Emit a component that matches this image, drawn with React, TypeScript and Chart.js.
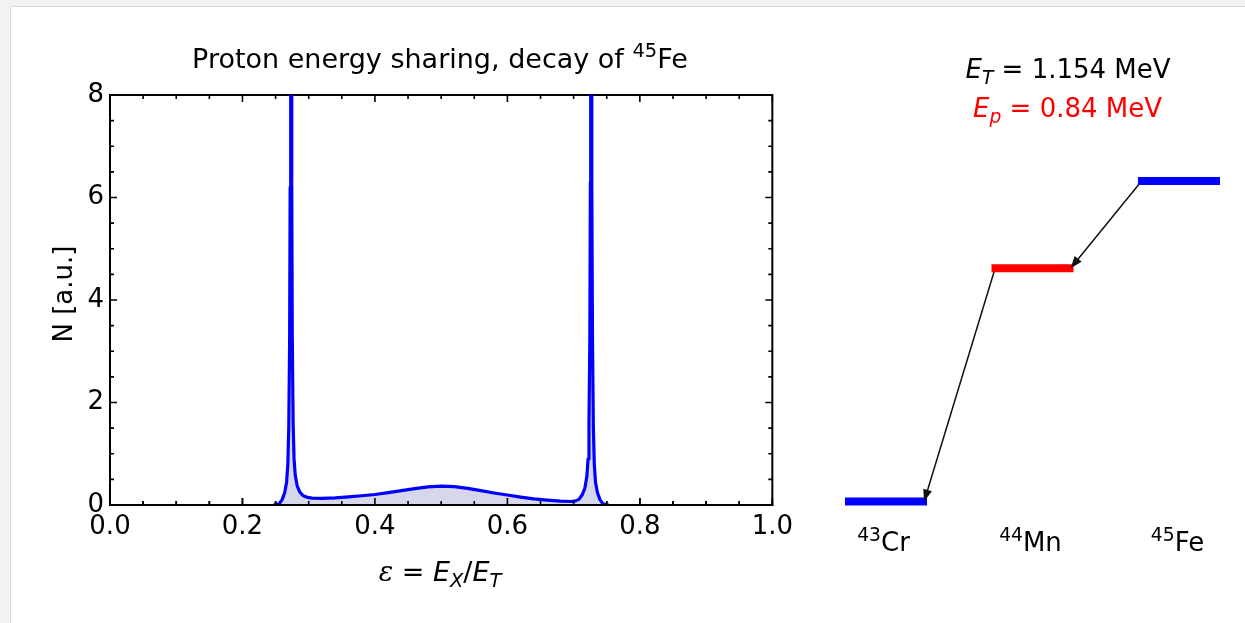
import React, { useEffect, useRef } from "react";
import { Chart, registerables } from "chart.js";

Chart.register(...registerables);

// ---------------- data ----------------
// proton energy sharing spectrum, epsilon = Ex/ET
const epsilon: number[] = [
  0.2467, 0.2517, 0.2557, 0.2597, 0.2637, 0.2667, 0.2685, 0.2699, 0.2712, 0.272, 0.2725, 0.2732,
  0.2739, 0.2744, 0.2752, 0.2765, 0.2779, 0.2797, 0.2827, 0.2867, 0.2917, 0.298, 0.305,
  0.32, 0.34, 0.36, 0.38, 0.40, 0.42, 0.44, 0.46, 0.48, 0.50, 0.52, 0.54, 0.56, 0.58, 0.60,
  0.62, 0.64, 0.66, 0.68, 0.695, 0.702, 0.708, 0.713, 0.717, 0.72, 0.7218, 0.7232, 0.7245,
  0.7253, 0.7258, 0.7265, 0.7272, 0.7277, 0.7285, 0.7298, 0.7312, 0.733, 0.736, 0.74, 0.744,
  0.748, 0.753,
];
const counts: number[] = [
  0, 0.01, 0.03, 0.1, 0.24, 0.45, 0.8, 1.5, 3.2, 6.2, 11, 22,
  11, 6.3, 3.3, 1.6, 0.9, 0.58, 0.37, 0.25, 0.18, 0.15, 0.135,
  0.13, 0.14, 0.16, 0.18, 0.205, 0.24, 0.28, 0.32, 0.355, 0.37, 0.36, 0.325, 0.28, 0.235, 0.195,
  0.155, 0.12, 0.095, 0.075, 0.068, 0.075, 0.11, 0.2, 0.33, 0.56, 0.9, 1.6, 3.3,
  6.3, 11, 22, 11, 6.2, 3.2, 1.5, 0.8, 0.45, 0.24, 0.1, 0.03,
  0.01, 0,
];
const xMin = 0;
const xMax = 1;
const xTickStep = 0.2;
const xMinorStep = 0.05;
const yMin = 0;
const yMax = 8;
const yTickStep = 2;
const yMinorStep = 0.5;

// level scheme (MeV above 43Cr ground state)
const massNumbers: string[] = ["43", "44", "45"];
const elements: string[] = ["Cr", "Mn", "Fe"];
const levelEnergies: number[] = [0, 0.84, 1.154];
const transitions: number[][] = [
  [2, 1],
  [1, 0],
];
const totalEnergy = "1.154";
const protonEnergy = "0.84";

// ---------------- styles ----------------
const FONT = '"DejaVu Sans", Verdana, sans-serif';
const levelColors = ["#0000ff", "#ff0000", "#0000ff"];
const LEVEL_HALF = 0.28;

const framePlugin = {
  id: "frameTicks",
  beforeDatasetsDraw(chart: any) {
    const { ctx, chartArea } = chart;
    const { left, right, top, bottom } = chartArea;
    const xs = chart.scales.x;
    const ys = chart.scales.y;
    ctx.save();
    ctx.strokeStyle = "#000";
    ctx.lineWidth = 2;
    ctx.strokeRect(left, top, right - left, bottom - top);
    ctx.lineWidth = 1.6;
    ctx.beginPath();
    const nx = Math.round((xMax - xMin) / xMinorStep);
    for (let i = 0; i <= nx; i++) {
      const v = xMin + i * xMinorStep;
      const px = xs.getPixelForValue(v);
      const len = i % 4 === 0 ? 7 : 4;
      ctx.moveTo(px, bottom);
      ctx.lineTo(px, bottom - len);
      ctx.moveTo(px, top);
      ctx.lineTo(px, top + len);
    }
    const ny = Math.round((yMax - yMin) / yMinorStep);
    for (let i = 0; i <= ny; i++) {
      const v = yMin + i * yMinorStep;
      const py = ys.getPixelForValue(v);
      const len = i % 4 === 0 ? 7 : 4;
      ctx.moveTo(left, py);
      ctx.lineTo(left + len, py);
      ctx.moveTo(right, py);
      ctx.lineTo(right - len, py);
    }
    ctx.stroke();
    ctx.restore();
  },
  afterDatasetsDraw(chart: any) {
    const { ctx, chartArea } = chart;
    const { left, right, bottom } = chartArea;
    const xs = chart.scales.x;
    ctx.save();
    ctx.strokeStyle = "#000";
    ctx.lineWidth = 2;
    ctx.beginPath();
    ctx.moveTo(left - 1, bottom);
    ctx.lineTo(right + 1, bottom);
    ctx.stroke();
    ctx.lineWidth = 1.6;
    ctx.beginPath();
    const nx = Math.round((xMax - xMin) / xMinorStep);
    for (let i = 0; i <= nx; i++) {
      const px = xs.getPixelForValue(xMin + i * xMinorStep);
      const len = i % 4 === 0 ? 7 : 4;
      ctx.moveTo(px, bottom);
      ctx.lineTo(px, bottom - len);
    }
    ctx.stroke();
    ctx.restore();
  },
};

const arrowPlugin = {
  id: "arrowHeads",
  afterDatasetsDraw(chart: any) {
    const { ctx } = chart;
    chart.data.datasets.forEach((ds: any, i: number) => {
      if (!ds.isArrow) return;
      const pts = chart.getDatasetMeta(i).data;
      if (pts.length < 2) return;
      const a = pts[pts.length - 2];
      const b = pts[pts.length - 1];
      const ang = Math.atan2(b.y - a.y, b.x - a.x);
      const L = 12;
      const W = 4.5;
      ctx.save();
      ctx.fillStyle = "#111";
      ctx.translate(b.x, b.y);
      ctx.rotate(ang);
      ctx.beginPath();
      ctx.moveTo(0, 0);
      ctx.lineTo(-L, -W);
      ctx.lineTo(-L, W);
      ctx.closePath();
      ctx.fill();
      ctx.restore();
    });
  },
};

const Sup = ({ children }: { children: any }) => (
  <span style={{ fontSize: "0.72em", position: "relative", top: "-0.55em" }}>{children}</span>
);
const Sub = ({ children }: { children: any }) => (
  <span style={{ fontSize: "0.72em", position: "relative", top: "0.3em" }}>{children}</span>
);

function textBox(cx: number, baseline: number, size: number, extra: any = {}) {
  const w = 1000;
  return {
    position: "absolute" as const,
    left: cx - w / 2,
    width: w,
    top: baseline - 0.846 * size,
    fontSize: size,
    lineHeight: `${size}px`,
    fontFamily: FONT,
    textAlign: "center" as const,
    color: "#000",
    whiteSpace: "nowrap" as const,
    ...extra,
  };
}

export default function App() {
  const specRef = useRef<HTMLCanvasElement | null>(null);
  const levelRef = useRef<HTMLCanvasElement | null>(null);

  useEffect(() => {
    const c1 = new Chart(specRef.current as HTMLCanvasElement, {
      type: "line",
      data: {
        datasets: [
          {
            data: epsilon.map((x, i) => ({ x, y: counts[i] })),
            borderColor: "#0000ff",
            borderWidth: 3.2,
            backgroundColor: "#d7d7ec",
            fill: "origin",
            pointRadius: 0,
            tension: 0,
            borderJoinStyle: "round",
          },
        ],
      },
      options: {
        animation: false,
        responsive: false,
        maintainAspectRatio: false,
        layout: { padding: { left: 0, top: 95, right: 27, bottom: 0 } },
        plugins: { legend: { display: false }, tooltip: { enabled: false }, title: { display: false } },
        scales: {
          x: {
            type: "linear",
            min: xMin,
            max: xMax,
            ticks: {
              stepSize: xTickStep,
              callback: (v: any) => Number(v).toFixed(1),
              font: { family: FONT, size: 26 },
              color: "#000",
              padding: 7,
              maxRotation: 0,
              autoSkip: false,
            },
            grid: { display: false, drawTicks: false },
            border: { display: false },
            afterFit: (s: any) => {
              s.height = 118;
            },
          },
          y: {
            type: "linear",
            min: yMin,
            max: yMax,
            ticks: {
              stepSize: yTickStep,
              callback: (v: any) => String(Math.round(Number(v))),
              font: { family: FONT, size: 26 },
              color: "#000",
              padding: 6,
            },
            grid: { display: false, drawTicks: false },
            border: { display: false },
            afterFit: (s: any) => {
              s.width = 110;
            },
          },
        },
      },
      plugins: [framePlugin],
    } as any);

    const levelSets: any[] = levelEnergies.map((e, i) => ({
      data: [
        { x: i - LEVEL_HALF, y: e },
        { x: i + LEVEL_HALF, y: e },
      ],
      borderColor: levelColors[i],
      borderWidth: 8,
      borderCapStyle: "butt",
      pointRadius: 0,
      fill: false,
      clip: false,
    }));
    const arrowSets: any[] = transitions.map(([f, t]) => ({
      isArrow: true,
      data: [
        { x: f - 0.255, y: levelEnergies[f] },
        { x: t + 0.26, y: levelEnergies[t] },
      ],
      borderColor: "#111",
      borderWidth: 1.5,
      pointRadius: 0,
      fill: false,
      clip: false,
    }));

    const c2 = new Chart(levelRef.current as HTMLCanvasElement, {
      type: "line",
      data: { datasets: [...levelSets, ...arrowSets] },
      options: {
        animation: false,
        responsive: false,
        maintainAspectRatio: false,
        layout: { padding: { left: 45, right: 25, top: 181, bottom: 121.5 } },
        plugins: { legend: { display: false }, tooltip: { enabled: false } },
        scales: {
          x: { type: "linear", min: -LEVEL_HALF, max: levelEnergies.length - 1 + LEVEL_HALF, display: false },
          y: { type: "linear", min: 0, max: levelEnergies[levelEnergies.length - 1], display: false },
        },
      },
      plugins: [arrowPlugin],
    } as any);

    return () => {
      c1.destroy();
      c2.destroy();
    };
  }, []);

  const labelCenters = [883.5, 1030.5, 1177.5];

  return (
    <div
      style={{
        position: "fixed",
        left: 0,
        top: 0,
        width: 1245,
        height: 623,
        background: "#f2f2f2",
        overflow: "hidden",
      }}
    >
      <div
        style={{
          position: "absolute",
          left: 10,
          top: 6,
          width: 1260,
          height: 640,
          background: "#ffffff",
          borderLeft: "1px solid #d9d9d9",
          borderTop: "1px solid #d9d9d9",
        }}
      />
      <canvas
        ref={specRef}
        width={800}
        height={623}
        style={{ position: "absolute", left: 0, top: 0, width: 800, height: 623 }}
      />
      <canvas
        ref={levelRef}
        width={445}
        height={623}
        style={{ position: "absolute", left: 800, top: 0, width: 445, height: 623 }}
      />

      <div style={textBox(440, 68, 27)}>
        Proton energy sharing, decay of <Sup>45</Sup>Fe
      </div>

      <div
        style={{
          ...textBox(63, 294 + 9, 26),
          left: 63 - 100,
          width: 200,
          top: 294 - 13,
          transform: "rotate(-90deg)",
          transformOrigin: "50% 50%",
        }}
      >
        N [a.u.]
      </div>

      <div style={textBox(440, 581, 27)}>
        <i style={{ fontFamily: '"DejaVu Serif", serif' }}>ε</i> = <i>E</i>
        <Sub>
          <i>X</i>
        </Sub>
        /<i>E</i>
        <Sub>
          <i>T</i>
        </Sub>
      </div>

      <div style={textBox(1068, 78, 26)}>
        <i>E</i>
        <Sub>
          <i>T</i>
        </Sub>{" "}
        = {totalEnergy} MeV
      </div>
      <div style={textBox(1067.5, 117, 26, { color: "#ff0000" })}>
        <i>E</i>
        <Sub>
          <i>p</i>
        </Sub>{" "}
        = {protonEnergy} MeV
      </div>

      {elements.map((el, i) => (
        <div key={el} style={textBox(labelCenters[i], 551, 26)}>
          <Sup>{massNumbers[i]}</Sup>
          {el}
        </div>
      ))}
    </div>
  );
}
